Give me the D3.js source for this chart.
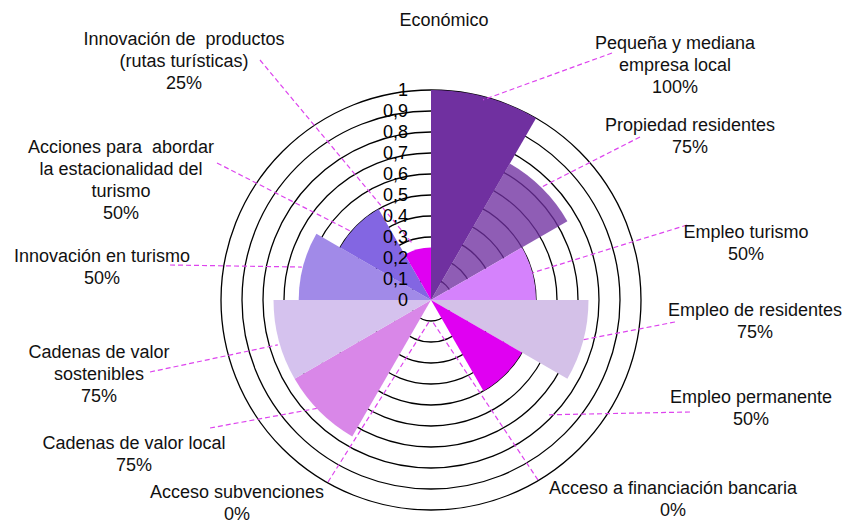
<!DOCTYPE html>
<html lang="es">
<head>
  <meta charset="UTF-8">
  <title>Económico</title>
  <style>
    body { margin: 0; background: #fff; }
    svg { font-family: "Liberation Sans", Arial, sans-serif; }
    .ring { fill: none; stroke: #000; stroke-width: 1.3px; }
    .tick-label { font-size: 18px; fill: #000; text-anchor: end; }
    .cat-label { font-size: 18px; fill: #111; text-anchor: middle; }
    .leader { stroke: #DD44EE; stroke-width: 1.2px; stroke-dasharray: 5 3; fill: none; }
  </style>
</head>
<body>
  <svg id="chart" width="843" height="525"></svg>

  <script src="https://cdnjs.cloudflare.com/ajax/libs/d3/7.8.5/d3.min.js"></script>
  <script>
    // Data
    const categories = [
      "Pequeña y mediana empresa local",
      "Propiedad residentes",
      "Empleo turismo",
      "Empleo de residentes",
      "Empleo permanente",
      "Acceso a financiación bancaria",
      "Acceso subvenciones",
      "Cadenas de valor local",
      "Cadenas de valor sostenibles",
      "Innovación en turismo",
      "Acciones para abordar la estacionalidad del turismo",
      "Innovación de productos (rutas turísticas)"
    ];
    const values = [1, 0.75, 0.5, 0.75, 0.5, 0, 0, 0.75, 0.75, 0.63, 0.5, 0.25];
    const pctLabels = ["100%", "75%", "50%", "75%", "50%", "0%", "0%", "75%", "75%", "50%", "50%", "25%"];
    const labelLines = [
      ["Pequeña y mediana", "empresa local"],
      ["Propiedad residentes"],
      ["Empleo turismo"],
      ["Empleo de residentes"],
      ["Empleo permanente"],
      ["Acceso a financiación bancaria"],
      ["Acceso subvenciones"],
      ["Cadenas de valor local"],
      ["Cadenas de valor", "sostenibles"],
      ["Innovación en turismo"],
      ["Acciones para  abordar", "la estacionalidad del", "turismo"],
      ["Innovación de  productos", "(rutas turísticas)"]
    ];
    const tickValues = [0, 0.1, 0.2, 0.3, 0.4, 0.5, 0.6, 0.7, 0.8, 0.9, 1];
    const title = "Económico";

    // Styling / layout
    const colors = ["#7030A0", "#7030A0", "#D582FC", "#D4C1E8", "#E000F2", "#ffffff",
                    "#ffffff", "#D987E8", "#D5C2EE", "#A18AE8", "#8366E2", "#E000F2"];
    const opacities = [1, 0.78, 1, 1, 1, 1, 1, 1, 1, 1, 1, 1];
    // label block centre (first line) and leader line: outer end + inner end in polar terms
    const labelPos = [
      {x: 675, y: 43,  ox: 612, oy: 53,  a: 14.6, r: 0.985},
      {x: 690, y: 125, ox: 640, oy: 137, a: 44.2, r: 0.745},
      {x: 746, y: 232, ox: 687, oy: 225, a: 75,   r: 0.5},
      {x: 755, y: 310, ox: 675, oy: 322, a: 104.8, r: 0.745},
      {x: 751, y: 397, ox: 690, oy: 412, a: 134.5, r: 0.78},
      {x: 673, y: 488, ox: 538, oy: 480, a: 177,  r: 0.1},
      {x: 237, y: 492, ox: 328, oy: 482, a: 184,  r: 0.1},
      {x: 134, y: 443, ox: 210, oy: 428, a: 226.5, r: 0.75},
      {x: 99,  y: 352, ox: 150, oy: 372, a: 253.7, r: 0.76},
      {x: 102, y: 256, ox: 170, oy: 265, a: 284.3, r: 0.635},
      {x: 121, y: 147, ox: 217, oy: 163, a: 310.7, r: 0.5},
      {x: 184, y: 39,  ox: 260, oy: 60,  a: 341.6, r: 0.286}
    ];

    const cx = 431, cy = 300;
    const svg = d3.select("#chart");
    const g = svg.append("g").attr("transform", `translate(${cx},${cy})`);

    const rScale = d3.scaleLinear().domain([0, 1]).range([0, 210]);
    const angle = d3.scaleBand().domain(categories).range([0, 2 * Math.PI]).padding(0);

    const fmt = d3.formatLocale({decimal: ",", thousands: ".", grouping: [3], currency: ["", "€"]}).format("~g");

    // rings
    g.selectAll(".ring")
      .data(tickValues.filter(d => d > 0))
      .enter().append("circle")
      .attr("class", "ring")
      .attr("r", d => rScale(d));

    // wedges
    const arc = d3.arc()
      .innerRadius(0)
      .outerRadius(d => rScale(d.v))
      .startAngle(d => angle(d.c))
      .endAngle(d => angle(d.c) + angle.bandwidth());

    const wedgeData = categories.map((c, i) => ({c: c, v: values[i], i: i}));
    g.selectAll(".wedge")
      .data(wedgeData.filter(d => d.v > 0))
      .enter().append("path")
      .attr("class", "wedge")
      .attr("d", arc)
      .attr("fill", d => colors[d.i])
      .attr("fill-opacity", d => opacities[d.i]);

    // leader lines
    const polar = (deg, v) => {
      const t = deg * Math.PI / 180;
      return [cx + rScale(v) * Math.sin(t), cy - rScale(v) * Math.cos(t)];
    };
    svg.selectAll(".leader")
      .data(labelPos)
      .enter().append("line")
      .attr("class", "leader")
      .attr("x1", d => d.ox)
      .attr("y1", d => d.oy)
      .attr("x2", d => polar(d.a, d.r)[0])
      .attr("y2", d => polar(d.a, d.r)[1]);

    // tick labels
    svg.selectAll(".tick-label")
      .data(tickValues)
      .enter().append("text")
      .attr("class", "tick-label")
      .attr("x", 408)
      .attr("y", d => cy - rScale(d))
      .attr("dy", "0.36em")
      .text(d => fmt(d));

    // category labels
    const lab = svg.selectAll(".cat-label")
      .data(categories)
      .enter().append("text")
      .attr("class", "cat-label")
      .attr("x", (d, i) => labelPos[i].x)
      .attr("y", (d, i) => labelPos[i].y + 6);
    lab.each(function(d, i) {
      const lines = labelLines[i].concat([pctLabels[i]]);
      d3.select(this).selectAll("tspan")
        .data(lines)
        .enter().append("tspan")
        .attr("x", labelPos[i].x)
        .attr("dy", (l, k) => k === 0 ? 0 : 22)
        .attr("xml:space", "preserve")
        .style("white-space", "pre")
        .text(l => l);
    });

    // title
    svg.append("text")
      .attr("x", 444)
      .attr("y", 26)
      .attr("text-anchor", "middle")
      .style("font-size", "18px")
      .attr("fill", "#111")
      .text(title);
  </script>
</body>
</html>
